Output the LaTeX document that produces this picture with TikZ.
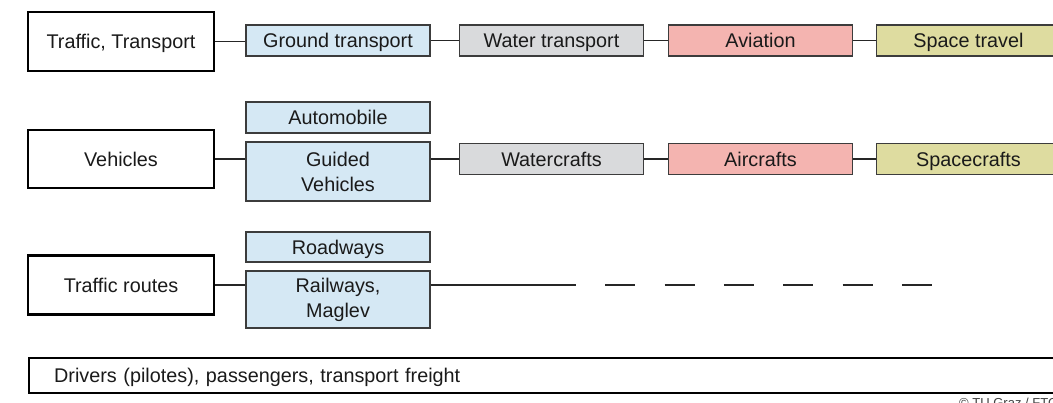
\documentclass[tikz,border=0pt]{standalone}
\usepackage{fontspec}
\setmainfont{Liberation Sans}
\definecolor{bluef}{HTML}{D5E8F4}
\definecolor{grayf}{HTML}{D9DADC}
\definecolor{pinkf}{HTML}{F4B4B0}
\definecolor{yellf}{HTML}{DEDCA0}
\definecolor{edgec}{HTML}{3C3C3C}
\definecolor{txtc}{HTML}{1A1A1A}
\begin{document}
\begin{tikzpicture}[x=1pt,y=-1pt,
  font=\fontsize{19.8}{25}\selectfont, text=txtc,
  mainbox/.style={draw=black, line width=2.4pt, fill=white, minimum width=186pt, inner sep=0pt, align=center},
  subbox/.style={draw=edgec, line width=1.1pt, minimum width=184pt, inner sep=0pt, align=center},
  sl/.style={text height=18.6pt, text depth=3.6pt},
  conn/.style={draw=black!85, line width=1.2pt},
]
\useasboundingbox (0,0) rectangle (1053,403);
\clip (0,0) rectangle (1053,403);

% Row 1
\node[mainbox, sl, minimum height=59pt] (tt) at (121,41.5) {Traffic, Transport};
\node[subbox, sl, fill=bluef, minimum height=31pt] (ground) at (338,40.5) {Ground transport};
\node[subbox, sl, fill=grayf, minimum height=31pt] (water) at (551.5,40.5) {Water transport};
\node[subbox, sl, fill=pinkf, minimum height=31pt] (aviation) at (760.5,40.5) {Aviation};
\node[subbox, sl, fill=yellf, minimum height=31pt] (space) at (968.5,40.5) {Space travel};

% Row 2
\node[mainbox, sl, minimum height=58pt] (veh) at (121,159) {Vehicles};
\node[subbox, sl, fill=bluef, minimum height=31pt] (auto) at (338,117.5) {Automobile};
\node[subbox, fill=bluef, minimum height=59pt] (guided) at (338,171.5) {Guided\\Vehicles};
\node[subbox, sl, fill=grayf, minimum height=31pt] (watercrafts) at (551.5,159) {Watercrafts};
\node[subbox, sl, fill=pinkf, minimum height=31pt] (aircrafts) at (760.5,159) {Aircrafts};
\node[subbox, sl, fill=yellf, minimum height=31pt] (spacecrafts) at (968.5,159) {Spacecrafts};

% Row 3
\node[mainbox, sl, minimum height=59pt] (tr) at (121,285) {Traffic routes};
\node[subbox, sl, fill=bluef, minimum height=30pt] (road) at (338,247) {Roadways};
\node[subbox, fill=bluef, minimum height=57pt] (rail) at (338,299.5) {Railways,\\Maglev};
\coordinate (solidEnd) at (576,285);
\coordinate (dashEnd) at (932,285);

% Bottom
\node[mainbox, sl, anchor=west, minimum height=35pt, minimum width=1100pt, align=left, text width=1050pt, inner xsep=22pt] (drivers) at (28,375.5) {Drivers (pilotes), passengers, transport freight};
\node[anchor=base west, font=\fontsize{13}{15}\selectfont, text=black!75, inner sep=0pt] (copy) at (959,408) {© TU Graz / FTG};

% Connectors
\draw[conn] (tt.east) -- (tt.east -| ground.west);
\draw[conn] (ground) -- (water);
\draw[conn] (water) -- (aviation);
\draw[conn] (aviation) -- (space);
\draw[conn] (veh.east) -- (veh.east -| guided.west);
\draw[conn] (watercrafts.west -| guided.east) -- (watercrafts.west);
\draw[conn] (watercrafts) -- (aircrafts);
\draw[conn] (aircrafts) -- (spacecrafts);
\draw[conn] (tr.east) -- (tr.east -| rail.west);
\draw[conn] (tr.east -| rail.east) -- (solidEnd);
\draw[conn, dash pattern=on 30pt off 29.3pt, dash phase=30pt] (solidEnd) -- (dashEnd);
\end{tikzpicture}
\end{document}
